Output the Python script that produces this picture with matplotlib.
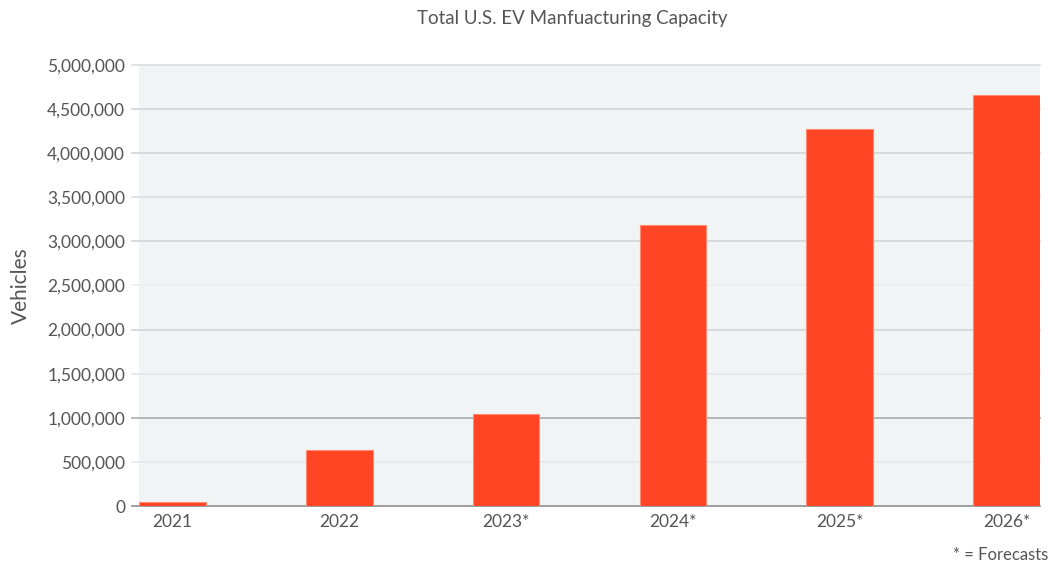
import matplotlib.pyplot as plt
from matplotlib.ticker import FuncFormatter

# values
years = ['2021', '2022', '2023*', '2024*', '2025*', '2026*']
capacity = [42000, 638000, 1043000, 3190000, 4271000, 4660000]
y_ticks = [0, 500000, 1000000, 1500000, 2000000, 2500000, 3000000, 3500000, 4000000, 4500000, 5000000]
grid_colors = ['#8e8e8e', '#e6e9eb', '#a9abad', '#e3e6e8', '#d2d5d7', '#ebeef0',
               '#d2d5d7', '#dadddf', '#d2d5d7', '#d2d5d7', '#dadddf']

plt.rcParams['font.family'] = ['Lato', 'DejaVu Sans']
text_color = '#555555'

fig = plt.figure(figsize=(10.58, 5.73), dpi=100)
ax = fig.add_axes([0.1314, 0.1169, 0.8516, 0.7697])
ax.set_facecolor('#f1f4f5')

x = range(len(years))
ax.bar(x, capacity, width=0.4, color='#ff4524', edgecolor='#ff8a73', linewidth=0.8, zorder=3)

# gridlines, each running a little left of the plot like a tick mark
for val, col in zip(y_ticks, grid_colors):
    ax.axhline(val, color=col, linewidth=1.2, zorder=1, clip_on=False,
               xmin=-0.008, xmax=1.0)

ax.set_xlim(-0.2, 5.2)
ax.set_ylim(0, 5000000)
ax.set_yticks(y_ticks)
ax.yaxis.set_major_formatter(FuncFormatter(lambda v, p: f'{int(v):,}'))
ax.set_xticks(list(x))
ax.set_xticklabels(years)
ax.tick_params(axis='y', length=0, pad=10, labelsize=12.5, labelcolor=text_color)
ax.tick_params(axis='x', length=0, pad=6, labelsize=12.5, labelcolor=text_color)
for s in ax.spines.values():
    s.set_visible(False)

ax.set_ylabel('Vehicles', fontsize=15, color=text_color, labelpad=12)
fig.text(0.541, 0.968, 'Total U.S. EV Manfuacturing Capacity', ha='center', va='center',
         fontsize=13.5, color=text_color)
fig.text(0.991, 0.017, '* = Forecasts', ha='right', va='bottom', fontsize=12, color=text_color)

fig.savefig('out.png', dpi=100)
